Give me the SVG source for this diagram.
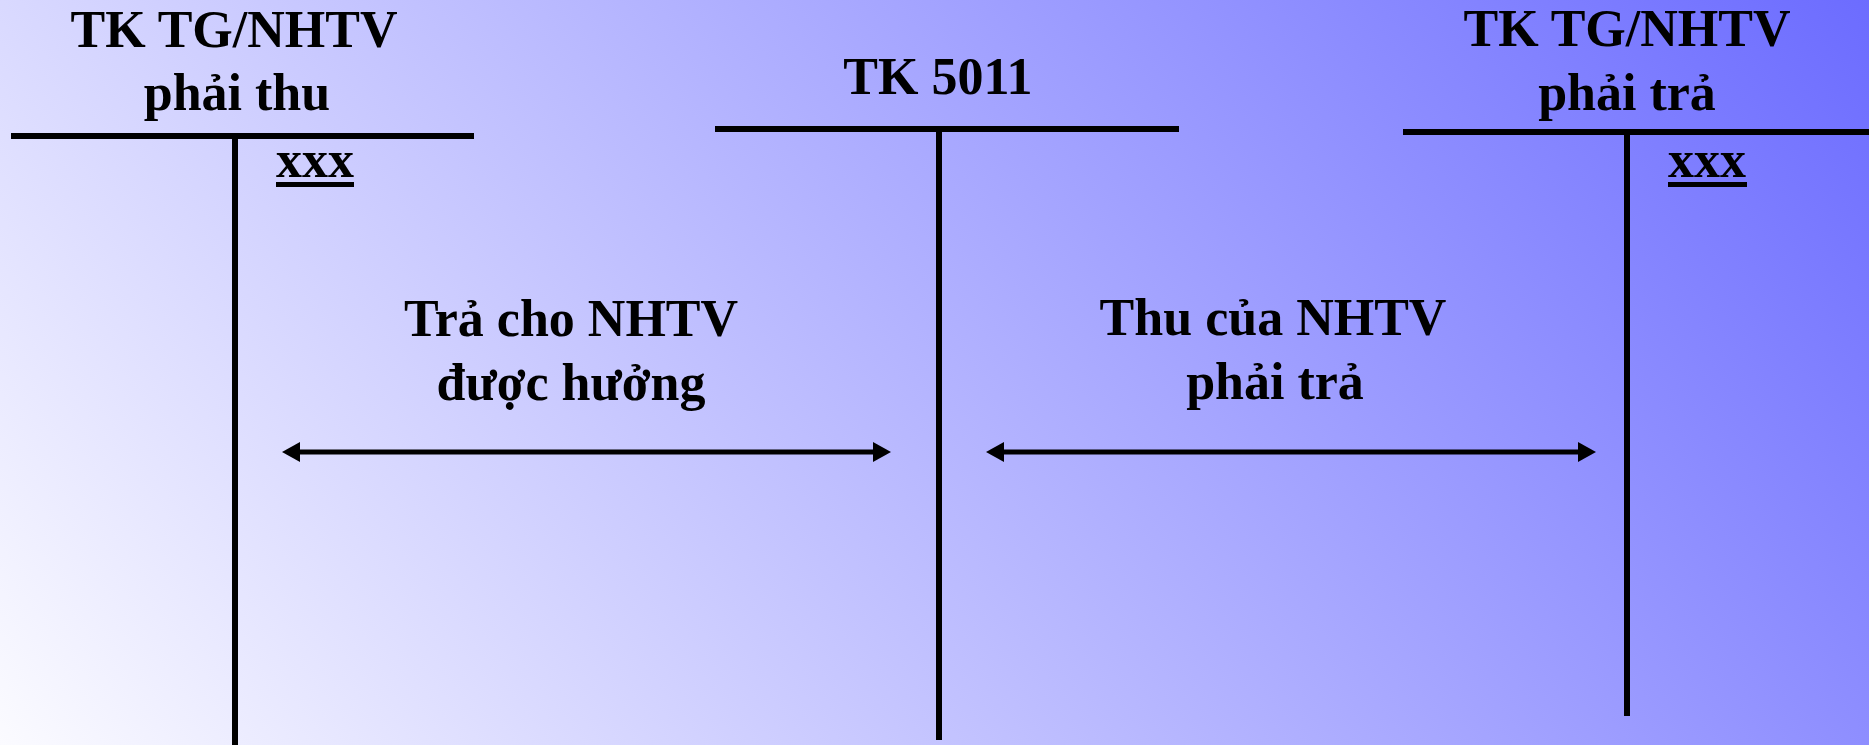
<svg xmlns="http://www.w3.org/2000/svg" width="1869" height="745" viewBox="0 0 1869 745">
  <defs>
    <linearGradient id="bg" gradientUnits="userSpaceOnUse" x1="0" y1="745" x2="1520" y2="-446">
      <stop offset="0" stop-color="#fbfbff"/>
      <stop offset="1" stop-color="#6c6cff"/>
    </linearGradient>
    <marker id="head" markerUnits="userSpaceOnUse" markerWidth="18" markerHeight="20" viewBox="0 0 18 20" refX="7" refY="10" orient="auto-start-reverse">
      <path d="M0 0 L18 10 L0 20 Z" fill="#000"/>
    </marker>
    <style>
      text { font-family: "Liberation Serif", "Times New Roman", serif; font-weight: bold; font-size: 52px; fill: #000; }
      .c { text-anchor: middle; }
      .bar { stroke: #000; stroke-width: 6; fill: none; }
      .ul { stroke: #000; stroke-width: 5; }
      .arrow { stroke: #000; stroke-width: 5; fill: none; marker-start: url(#head); marker-end: url(#head); }
    </style>
  </defs>
  <rect x="0" y="0" width="1869" height="745" fill="url(#bg)"/>

  <g id="tk-phai-thu">
    <text class="c" x="234" y="47">TK TG/NHTV</text>
    <text class="c" x="237" y="110">phải thu</text>
    <line class="bar" x1="11" y1="136" x2="474" y2="136"/>
    <line class="bar" x1="235" y1="136" x2="235" y2="745"/>
    <text x="276" y="177">xxx</text>
    <line class="ul" x1="276" y1="184.5" x2="354" y2="184.5"/>
  </g>

  <g id="tk-5011">
    <text class="c" x="938" y="94">TK 5011</text>
    <line class="bar" x1="715" y1="129" x2="1179" y2="129"/>
    <line class="bar" x1="939" y1="129" x2="939" y2="740"/>
  </g>

  <g id="tk-phai-tra">
    <text class="c" x="1627" y="46">TK TG/NHTV</text>
    <text class="c" x="1627" y="110">phải trả</text>
    <line class="bar" x1="1403" y1="132" x2="1869" y2="132"/>
    <line class="bar" x1="1627" y1="132" x2="1627" y2="716"/>
    <text x="1668" y="177">xxx</text>
    <line class="ul" x1="1668" y1="184.5" x2="1747" y2="184.5"/>
  </g>

  <g id="label-left">
    <text class="c" x="571" y="336">Trả cho NHTV</text>
    <text class="c" x="571" y="400">được hưởng</text>
  </g>

  <g id="label-right">
    <text class="c" x="1273" y="335">Thu của NHTV</text>
    <text class="c" x="1275" y="399">phải trả</text>
  </g>

  <g id="connectors">
    <path class="arrow" d="M293 452 H880"/>
    <path class="arrow" d="M997 452 H1585"/>
  </g>
</svg>
